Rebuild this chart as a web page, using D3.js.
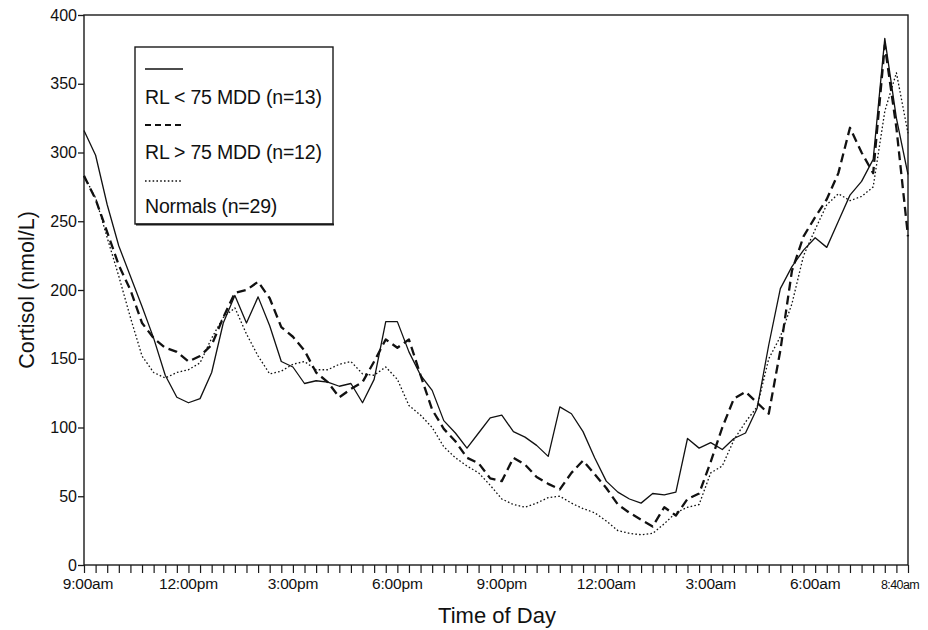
<!DOCTYPE html>
<html>
<head>
<meta charset="utf-8">
<script src="https://cdn.jsdelivr.net/npm/d3@7"></script>
<style>
  body { margin: 0; background: #fff; }
  svg { display: block; font-family: "Liberation Sans", Arial, Helvetica, sans-serif; }
</style>
</head>
<body>
<div id="chart"></div>
<script>
// ================================
// Data (minutes after 9:00am, sampled every 20 min)
// ================================
const sampleMinutes = d3.range(0, 1421, 20);

const rlLow = [
  316, 298, 262, 232, 210, 188, 165, 138, 122, 118,
  121, 140, 176, 196, 176, 195, 174, 148, 144, 132,
  134, 133, 130, 132, 118, 135, 177, 177, 155, 138,
  127, 105, 96, 85, 96, 107, 109, 97, 93, 87,
  79, 115, 110, 97, 78, 61, 53, 48, 45, 52,
  51, 53, 92, 85, 89, 84, 92, 96, 114, 160,
  201, 217, 229, 238, 231, 250, 269, 279, 295, 383,
  325, 284
];

const rlHigh = [
  283, 266, 242, 218, 200, 176, 165, 158, 155, 148,
  152, 160, 180, 198, 200, 206, 194, 173, 166, 156,
  140, 133, 122, 128, 133, 148, 164, 158, 164, 138,
  113, 99, 90, 78, 74, 63, 61, 78, 73, 64,
  59, 55, 67, 76, 66, 56, 44, 38, 33, 28,
  42, 36, 48, 52, 75, 100, 121, 126, 118, 110,
  156, 214, 239, 253, 266, 285, 318, 300, 285, 378,
  318, 239
];

const normals = [
  283, 267, 238, 210, 180, 152, 140, 136, 140, 142,
  147, 165, 180, 187, 168, 152, 139, 141, 146, 148,
  142, 142, 146, 148, 139, 138, 144, 135, 116, 109,
  100, 86, 78, 72, 67, 58, 48, 44, 42, 45,
  49, 50, 45, 41, 38, 32, 25, 23, 22, 23,
  30, 38, 42, 44, 67, 72, 91, 104, 115, 150,
  166, 190, 225, 244, 262, 270, 265, 268, 275, 330,
  358, 314
];

const seriesNames = ['RL < 75 MDD (n=13)', 'RL > 75 MDD (n=12)', 'Normals (n=29)'];
const seriesValues = [rlLow, rlHigh, normals];

const xLabelMinutes = [0, 180, 360, 540, 720, 900, 1080, 1260, 1420];
const xLabels = ['9:00am', '12:00pm', '3:00pm', '6:00pm', '9:00pm', '12:00am', '3:00am', '6:00am', '8:40am'];
const yTicks = [0, 50, 100, 150, 200, 250, 300, 350, 400];

// ================================
// Layout
// ================================
const W = 928, H = 630;
const plot = { left: 84, right: 908, top: 15, bottom: 565 };

const svg = d3.select('#chart').append('svg')
  .attr('width', W)
  .attr('height', H);

svg.append('rect').attr('width', W).attr('height', H).attr('fill', '#fff');

const x = d3.scaleLinear().domain([0, 1420]).range([plot.left, plot.right]);
const y = d3.scaleLinear().domain([0, 400]).range([plot.bottom, plot.top]);

// line styles for each series
const styles = [
  { width: 1.3, dash: null, legendDash: null },
  { width: 2.3, dash: '9,5', legendDash: '6,4' },
  { width: 1.3, dash: '1.6,2.2', legendDash: '1.6,2.2' }
];

// frame
svg.append('rect')
  .attr('x', plot.left)
  .attr('y', plot.top)
  .attr('width', plot.right - plot.left)
  .attr('height', plot.bottom - plot.top)
  .attr('fill', 'none')
  .attr('stroke', '#1a1a1a')
  .attr('stroke-width', 1.4);

// minor ticks every 20 min
const minorAxis = svg.append('g')
  .attr('transform', `translate(0,${plot.bottom})`)
  .call(d3.axisBottom(x).tickValues(sampleMinutes).tickSize(8).tickFormat(''));
minorAxis.select('.domain').remove();
minorAxis.selectAll('line').attr('stroke', '#1a1a1a').attr('stroke-width', 1.2);

// x labels
const last = xLabels.length - 1;
svg.append('g')
  .selectAll('text')
  .data(xLabelMinutes)
  .join('text')
  .attr('x', (d, i) => x(d) + (i === 0 ? 4 : 0) + (i === last ? -8 : 0))
  .attr('y', 589)
  .attr('text-anchor', 'middle')
  .attr('font-size', (d, i) => i === last ? '12.5px' : '15.5px')
  .attr('letter-spacing', (d, i) => i === last ? '-0.6px' : '-0.2px')
  .attr('fill', '#111')
  .text((d, i) => xLabels[i]);

// y axis
const yAxis = svg.append('g')
  .attr('transform', `translate(${plot.left},0)`)
  .call(d3.axisLeft(y).tickValues(yTicks).tickSize(6).tickPadding(1));
yAxis.select('.domain').remove();
yAxis.selectAll('line').attr('stroke', '#1a1a1a').attr('stroke-width', 1.3);
yAxis.selectAll('text')
  .attr('font-size', '16px')
  .attr('fill', '#111')
  .attr('font-family', '"Liberation Sans", Arial, sans-serif');

// axis titles
svg.append('text')
  .attr('x', 497)
  .attr('y', 623)
  .attr('text-anchor', 'middle')
  .attr('font-size', '22px')
  .attr('fill', '#111')
  .text('Time of Day');

svg.append('text')
  .attr('transform', 'translate(34,290) rotate(-90)')
  .attr('text-anchor', 'middle')
  .attr('font-size', '21.5px')
  .attr('fill', '#111')
  .text('Cortisol (nmol/L)');

// series lines
const line = d3.line()
  .x((d, i) => x(sampleMinutes[i]))
  .y(d => y(d));

seriesValues.forEach((vals, s) => {
  svg.append('path')
    .datum(vals)
    .attr('fill', 'none')
    .attr('stroke', '#111')
    .attr('stroke-width', styles[s].width)
    .attr('stroke-dasharray', styles[s].dash)
    .attr('stroke-linejoin', 'round')
    .attr('d', line);
});

// legend
const legend = svg.append('g');
legend.append('rect')
  .attr('x', 135)
  .attr('y', 47)
  .attr('width', 198)
  .attr('height', 177)
  .attr('fill', '#fff')
  .attr('stroke', '#1a1a1a')
  .attr('stroke-width', 1.4);
legend.append('line')
  .attr('x1', 136).attr('x2', 334)
  .attr('y1', 224.5).attr('y2', 224.5)
  .attr('stroke', '#1a1a1a')
  .attr('stroke-width', 2.2);

seriesNames.forEach((name, i) => {
  legend.append('line')
    .attr('x1', 145)
    .attr('x2', 183)
    .attr('y1', 69 + i * 56)
    .attr('y2', 69 + i * 56)
    .attr('stroke', '#111')
    .attr('stroke-width', i === 1 ? 2 : 1.3)
    .attr('stroke-dasharray', styles[i].legendDash);

  legend.append('text')
    .attr('x', 145)
    .attr('y', 104 + i * 54.5)
    .attr('font-size', '19.5px')
    .attr('letter-spacing', '-0.2px')
    .attr('fill', '#111')
    .text(name);
});
</script>
</body>
</html>
